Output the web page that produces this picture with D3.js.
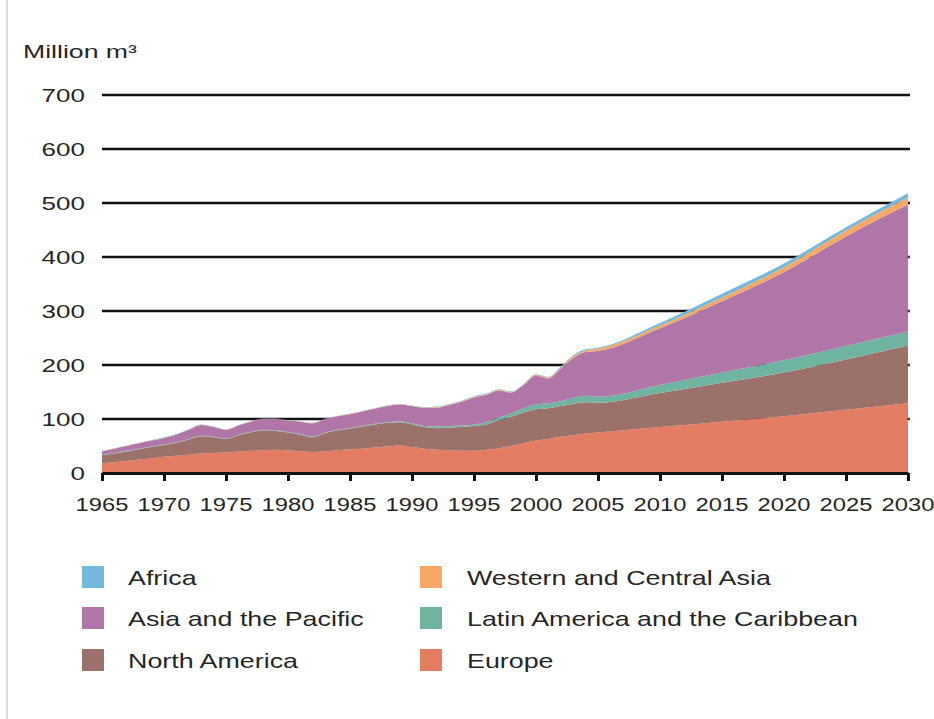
<!DOCTYPE html>
<html>
<head>
<meta charset="utf-8">
<script src="https://cdn.jsdelivr.net/npm/d3@7"></script>
<style>
  body { margin: 0; background: #fff; }
  svg { display: block; font-family: "Liberation Sans", Arial, Helvetica, sans-serif; }
</style>
</head>
<body>
<svg id="chart" width="934" height="719"></svg>
<script>
// years: annual history, then 5-year projection
const years = [1965, 1966, 1967, 1968, 1969, 1970, 1971, 1972, 1973, 1974,
    1975, 1976, 1977, 1978, 1979, 1980, 1981, 1982, 1983, 1984,
    1985, 1986, 1987, 1988, 1989, 1990, 1991, 1992, 1993, 1994,
    1995, 1996, 1997, 1998, 1999, 2000, 2001, 2002, 2003, 2004,
    2005, 2010, 2015, 2020, 2025, 2030];

const europe = [18, 20, 22, 25, 27, 30, 32, 34, 36, 37,
    38, 40, 41, 42, 43, 42, 40, 39, 40, 42,
    44, 45, 47, 49, 51, 48, 45, 43, 42, 41,
    41, 43, 46, 50, 55, 60, 63, 67, 70, 73,
    75, 85, 95, 105, 117, 129];

const northAmerica = [15, 16, 18, 19, 21, 22, 24, 28, 32, 29,
    25, 30, 34, 37, 35, 33, 31, 27, 34, 37,
    38, 41, 43, 44, 43, 42, 40, 40, 42, 44,
    46, 47, 52, 54, 57, 58, 57, 57, 58, 58,
    55, 63, 72, 81, 93, 107];

const latinAmerica = [1, 1, 1, 1, 1, 1, 1, 1, 1, 1,
    1, 1, 1, 1, 1, 1, 1, 1, 1, 1,
    1, 1, 1, 1, 2, 2, 2, 3, 3, 3,
    3, 4, 5, 6, 8, 9, 9, 9, 11, 12,
    11, 15, 19, 23, 25, 26];

const asiaPacific = [6, 8, 9, 10, 11, 12, 14, 17, 20, 18,
    16, 17, 19, 20, 21, 21, 23, 25, 25, 25,
    26, 27, 28, 30, 31, 32, 34, 35, 39, 44,
    50, 51, 50, 39, 43, 53, 46, 60, 74, 81,
    85, 105, 132, 163, 203, 235];

const westernCentralAsia = [0.5, 0.5, 0.5, 0.5, 0.5, 0.5, 0.5, 0.5, 0.5, 0.5,
    0.5, 0.5, 0.5, 0.5, 0.5, 0.5, 0.5, 0.5, 0.5, 0.5,
    0.5, 0.5, 0.5, 0.5, 0.5, 0.5, 0.5, 1, 1, 1,
    1, 1, 1, 1, 1, 2, 2, 2, 3, 3,
    4, 5, 7, 9, 11, 13];

const africa = [0.5, 0.5, 0.5, 0.5, 0.5, 0.5, 0.5, 0.5, 0.5, 0.5,
    0.5, 0.5, 0.5, 0.5, 0.5, 0.5, 0.5, 0.5, 0.5, 0.5,
    0.5, 0.5, 0.5, 0.5, 0.5, 0.5, 0.5, 1, 1, 1,
    1, 1, 1, 1, 1, 1, 1, 2, 2, 2,
    2, 5, 7, 7, 6, 8];

const seriesNames = ['Europe', 'North America', 'Latin America and the Caribbean',
    'Asia and the Pacific', 'Western and Central Asia', 'Africa'];
const seriesColors = ['#e47c63', '#9b7169', '#6fb4a1', '#b076a8', '#f6a866', '#74b8dc'];

const yTicks = [0, 100, 200, 300, 400, 500, 600, 700];
const xTicks = [1965, 1970, 1975, 1980, 1985, 1990, 1995, 2000, 2005, 2010, 2015, 2020, 2025, 2030];

const legendLeft = ['Africa', 'Asia and the Pacific', 'North America'];
const legendRight = ['Western and Central Asia', 'Latin America and the Caribbean', 'Europe'];

// build table for the stack
const valuesByName = {
    'Europe': europe,
    'North America': northAmerica,
    'Latin America and the Caribbean': latinAmerica,
    'Asia and the Pacific': asiaPacific,
    'Western and Central Asia': westernCentralAsia,
    'Africa': africa
};
const table = years.map((yr, i) => {
    const row = { year: yr };
    seriesNames.forEach(n => row[n] = valuesByName[n][i]);
    return row;
});
const colorOf = d3.scaleOrdinal().domain(seriesNames).range(seriesColors);

const svg = d3.select('#chart');
const textColor = '#262626',
    stretch = 1.32;

const x = d3.scaleLinear().domain([1965, 2030]).range([102, 908]);
const y = d3.scaleLinear().domain([0, 700]).range([473, 95]);

// page edge line on the left
svg.append('line')
    .attr('x1', 7).attr('x2', 7).attr('y1', 0).attr('y2', 719)
    .attr('stroke', '#cfcfcf').attr('stroke-width', 1.5);

// gridlines (behind areas)
svg.append('g')
    .selectAll('line')
    .data(yTicks.filter(d => d > 0))
    .join('line')
    .attr('x1', x(1965)).attr('x2', x(2030) + 2)
    .attr('y1', d => y(d)).attr('y2', d => y(d))
    .attr('stroke', '#111').attr('stroke-width', 2.6);

// stacked areas
const stack = d3.stack().keys(seriesNames);
const layers = stack(table);
const area = d3.area()
    .x(d => x(d.data.year))
    .y0(d => y(d[0]))
    .y1(d => y(d[1]))
    .curve(d3.curveMonotoneX);

svg.append('g')
    .selectAll('path')
    .data(layers)
    .join('path')
    .attr('d', area)
    .attr('fill', d => colorOf(d.key));

// small ticks on right edge
svg.append('g')
    .selectAll('line')
    .data(yTicks.filter(d => d > 0 && d < 500))
    .join('line')
    .attr('x1', x(2030) - 1).attr('x2', x(2030) + 2)
    .attr('y1', d => y(d)).attr('y2', d => y(d))
    .attr('stroke', '#555').attr('stroke-width', 1.5);

// x axis
const xAxis = svg.append('g')
    .attr('transform', `translate(0,${y(0)})`)
    .call(d3.axisBottom(x).tickValues(xTicks).tickSize(8).tickSizeOuter(0).tickFormat(''));
xAxis.select('.domain').attr('stroke', '#111').attr('stroke-width', 3);
xAxis.selectAll('.tick line').attr('stroke', '#111').attr('stroke-width', 3);

// x tick labels (source text is horizontally stretched)
svg.append('g')
    .selectAll('text')
    .data(xTicks)
    .join('text')
    .attr('transform', d => `translate(${x(d)},511) scale(${stretch},1)`)
    .attr('text-anchor', 'middle')
    .attr('font-size', 18)
    .attr('fill', textColor)
    .text(d => d);

// y tick labels
svg.append('g')
    .selectAll('text')
    .data(yTicks)
    .join('text')
    .attr('transform', d => `translate(85,${y(d) + 7}) scale(${stretch + 0.05},1)`)
    .attr('text-anchor', 'end')
    .attr('font-size', 19)
    .attr('fill', textColor)
    .text(d => d);

// unit label
svg.append('text')
    .attr('transform', `translate(23,58) scale(${stretch + 0.16},1)`)
    .attr('font-size', 18)
    .attr('fill', textColor)
    .text('Million m³');

// legend
const legendRows = [577, 618, 660];
function drawLegend(names, sx, tx) {
    const g = svg.append('g');
    const item = g.selectAll('g')
        .data(names)
        .join('g');
    item.append('rect')
        .attr('x', sx)
        .attr('y', (d, i) => legendRows[i] - 11)
        .attr('width', 22).attr('height', 22)
        .attr('fill', d => colorOf(d));
    item.append('text')
        .attr('transform', (d, i) => `translate(${tx},${legendRows[i] + 7.5}) scale(${stretch - 0.01},1)`)
        .attr('font-size', 20.5)
        .attr('fill', textColor)
        .text(d => d);
}
drawLegend(legendLeft, 82, 128);
drawLegend(legendRight, 420, 467);
</script>
</body>
</html>
